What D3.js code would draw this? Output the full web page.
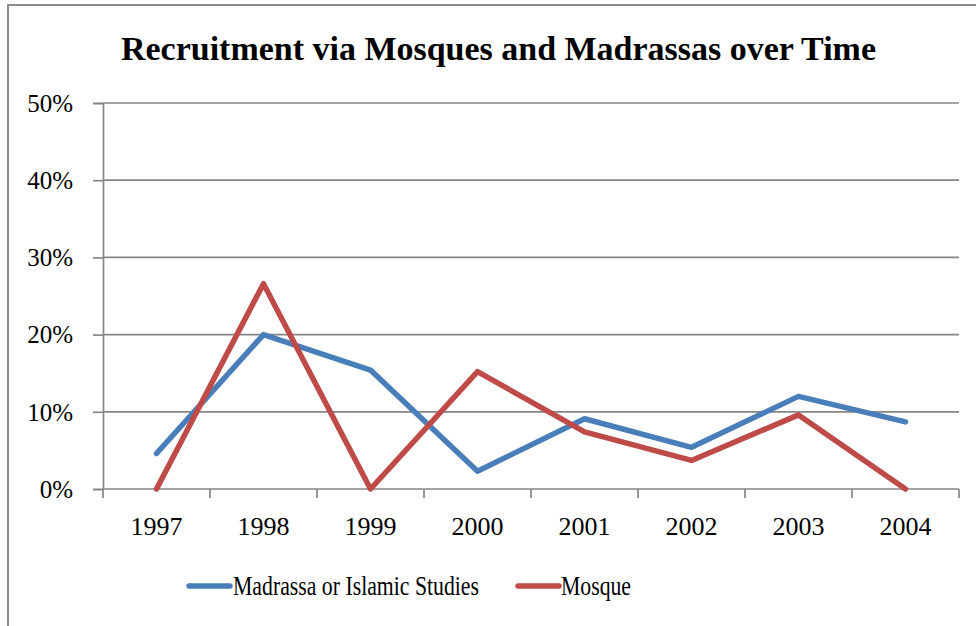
<!DOCTYPE html>
<html><head><meta charset="utf-8">
<script src="https://cdn.jsdelivr.net/npm/d3@7"></script>
<style>html,body{margin:0;padding:0;background:#fff;}svg{display:block;}</style>
</head><body>
<script>
const years = ["1997","1998","1999","2000","2001","2002","2003","2004"];
const madrassa = [0.046, 0.200, 0.154, 0.023, 0.091, 0.054, 0.120, 0.087];
const mosque = [0.000, 0.266, 0.000, 0.152, 0.074, 0.037, 0.096, 0.000];
const yTicks = [0, 0.1, 0.2, 0.3, 0.4, 0.5];
const seriesNames = ["Madrassa or Islamic Studies", "Mosque"];
const colors = ["#4A7EBB", "#BE4B48"];
const titleText = "Recruitment via Mosques and Madrassas over Time";

const W = 976, H = 626;
const font = "'Palatino Linotype','Book Antiqua',Palatino,'Liberation Serif','Times New Roman',serif";
const svg = d3.select("body").append("svg").attr("width", W).attr("height", H);

// chart border
svg.append("rect").attr("x", 8).attr("y", 5).attr("width", W + 10).attr("height", H + 10)
  .attr("fill", "#fff").attr("stroke", "#8c8c8c").attr("stroke-width", 2);

const x0 = 103, x1 = 959, yTop = 103, yBot = 489;
const x = d3.scaleBand().domain(years).range([x0, x1]);
const y = d3.scaleLinear().domain([0, 0.5]).range([yBot, yTop]);
const gridColor = "#868686";

// gridlines
svg.append("g").selectAll("line").data(yTicks.filter(d => d > 0)).join("line")
  .attr("x1", x0).attr("x2", x1).attr("y1", d => y(d)).attr("y2", d => y(d))
  .attr("stroke", gridColor).attr("stroke-width", 1.7);

// y axis
const yAxis = d3.axisLeft(y).tickValues(yTicks).tickFormat(d3.format(".0%")).tickSize(10).tickPadding(20);
const gy = svg.append("g").attr("transform", `translate(${x0},0)`).call(yAxis);
gy.select(".domain").attr("stroke", gridColor).attr("stroke-width", 1.7);
gy.selectAll(".tick line").attr("stroke", gridColor).attr("stroke-width", 1.7);
gy.selectAll("text").attr("font-family", font).attr("font-size", 25).attr("fill", "#000").attr("dy", "0.33em");

// x axis
const xAxis = d3.axisBottom(x).tickSize(0).tickPadding(28);
const gx = svg.append("g").attr("transform", `translate(0,${yBot})`).call(xAxis);
gx.select(".domain").attr("stroke", gridColor).attr("stroke-width", 1.7).attr("d", `M${x0},0H${x1}`);
gx.selectAll("text").attr("font-family", font).attr("font-size", 26).attr("fill", "#000");
// category boundary tick marks
const bounds = years.map(d => x(d)).concat([x1]);
gx.append("g").selectAll("line").data(bounds).join("line")
  .attr("x1", d => d).attr("x2", d => d).attr("y1", 0).attr("y2", 9)
  .attr("stroke", gridColor).attr("stroke-width", 1.7);

// lines
const line = d3.line().x((d, i) => x(years[i]) + x.bandwidth() / 2).y(d => y(d));
[madrassa, mosque].forEach((s, i) => {
  svg.append("path").datum(s).attr("d", line).attr("fill", "none")
    .attr("stroke", colors[i]).attr("stroke-width", 5.5)
    .attr("stroke-linejoin", "round").attr("stroke-linecap", "round");
});

// title
svg.append("text").attr("x", 498.5).attr("y", 60).attr("text-anchor", "middle")
  .attr("font-family", font).attr("font-weight", "bold").attr("font-size", 33)
  .attr("textLength", 755).attr("lengthAdjust", "spacingAndGlyphs")
  .text(titleText);

// legend
const legend = [
  {lx: 189, tx: 233, tw: 246},
  {lx: 518, tx: 561, tw: 70}
];
legend.forEach((l, i) => {
  svg.append("line").attr("x1", l.lx).attr("x2", l.lx + 41).attr("y1", 586).attr("y2", 586)
    .attr("stroke", colors[i]).attr("stroke-width", 5.5).attr("stroke-linecap", "round");
  svg.append("text").attr("x", l.tx).attr("y", 595)
    .attr("font-family", font).attr("font-size", 27)
    .attr("textLength", l.tw).attr("lengthAdjust", "spacingAndGlyphs")
    .text(seriesNames[i]);
});
</script>
</body></html>
